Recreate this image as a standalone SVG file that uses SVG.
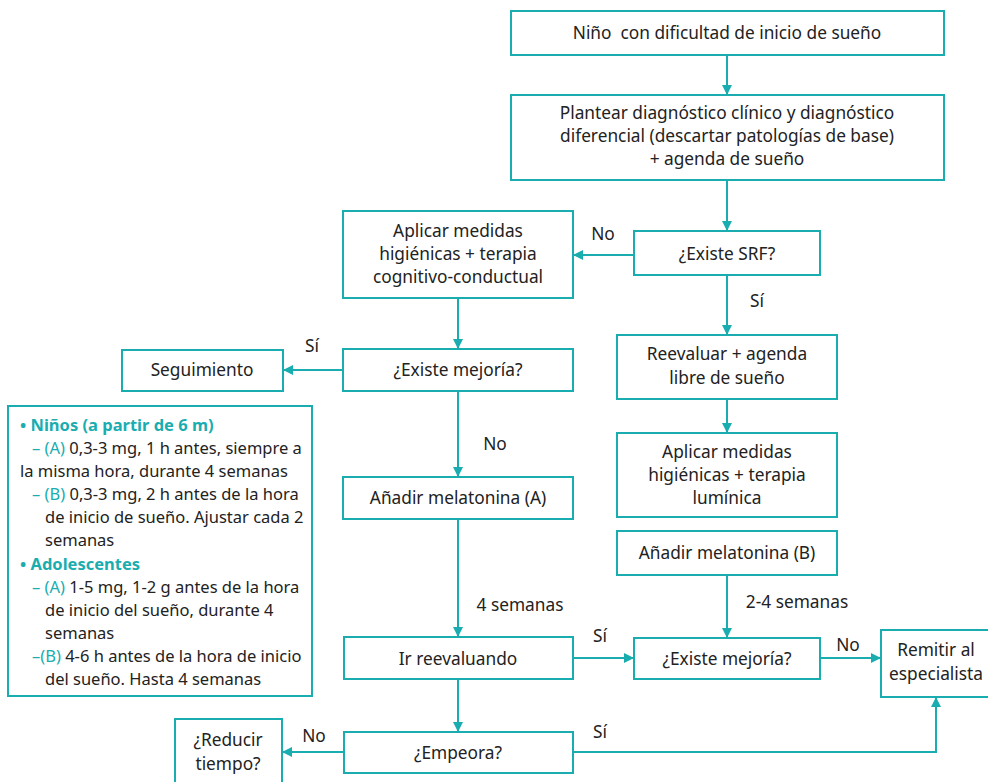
<svg xmlns="http://www.w3.org/2000/svg" width="988" height="782" viewBox="0 0 988 782">
<style>
.box{fill:#fff;stroke:#1aadb0;stroke-width:2}
.ln{fill:none;stroke:#1aadb0;stroke-width:2}
text{font-family:"Noto Sans","Open Sans",sans-serif;font-size:17.3px;fill:#222;white-space:pre}
.c{text-anchor:middle}
.s{font-size:16.5px}
.t{fill:#1aadb0}
.b{font-weight:bold;fill:#1aadb0}
</style>
<defs>
<marker id="ah" markerWidth="10" markerHeight="10" refX="9" refY="5" orient="auto" markerUnits="userSpaceOnUse">
<path d="M0,0 L10,5 L0,10 Z" fill="#1aadb0"/>
</marker>
</defs>
<rect width="988" height="782" fill="#fff"/>
<g id="connectors">
<line class="ln" x1="727" y1="55" x2="727" y2="94" marker-end="url(#ah)"/>
<line class="ln" x1="727" y1="180" x2="727" y2="230" marker-end="url(#ah)"/>
<line class="ln" x1="634" y1="255" x2="574" y2="255" marker-end="url(#ah)"/>
<line class="ln" x1="727" y1="275" x2="727" y2="334" marker-end="url(#ah)"/>
<line class="ln" x1="458" y1="298" x2="458" y2="348" marker-end="url(#ah)"/>
<line class="ln" x1="343" y1="370" x2="284" y2="370" marker-end="url(#ah)"/>
<line class="ln" x1="727" y1="399" x2="727" y2="432" marker-end="url(#ah)"/>
<line class="ln" x1="458" y1="391" x2="458" y2="476" marker-end="url(#ah)"/>
<line class="ln" x1="458" y1="519" x2="458" y2="636" marker-end="url(#ah)"/>
<line class="ln" x1="727" y1="575" x2="727" y2="637" marker-end="url(#ah)"/>
<line class="ln" x1="573" y1="658" x2="633" y2="658" marker-end="url(#ah)"/>
<line class="ln" x1="820" y1="658" x2="880" y2="658" marker-end="url(#ah)"/>
<line class="ln" x1="458" y1="679" x2="458" y2="731" marker-end="url(#ah)"/>
<line class="ln" x1="344" y1="752" x2="283" y2="752" marker-end="url(#ah)"/>
<polyline class="ln" points="573,752 936,752 936,698" marker-end="url(#ah)"/>
<text x="603" y="240" class="c">No</text>
<text x="757" y="307" class="c">Sí</text>
<text x="312" y="352" class="c">Sí</text>
<text x="495" y="450" class="c">No</text>
<text x="520" y="611" class="c">4 semanas</text>
<text x="797" y="608" class="c">2-4 semanas</text>
<text x="600" y="642" class="c">Sí</text>
<text x="848" y="651" class="c">No</text>
<text x="314" y="742" class="c">No</text>
<text x="600" y="738" class="c">Sí</text>
</g>
<g id="n1"><rect class="box" x="511" y="11" width="433" height="44"/>
<text x="727" y="39" class="c">Niño  con dificultad de inicio de sueño</text></g>
<g id="n2"><rect class="box" x="511" y="95" width="433" height="85"/>
<text x="727" y="119" class="c">Plantear diagnóstico clínico y diagnóstico</text>
<text x="727" y="142" class="c">diferencial (descartar patologías de base)</text>
<text x="727" y="165" class="c">+ agenda de sueño</text></g>
<g id="n3"><rect class="box" x="634" y="231" width="186" height="44"/>
<text x="727" y="260" class="c">¿Existe SRF?</text></g>
<g id="n4"><rect class="box" x="343" y="211" width="230" height="87"/>
<text x="458" y="237" class="c">Aplicar medidas</text>
<text x="458" y="260" class="c">higiénicas + terapia</text>
<text x="458" y="283" class="c">cognitivo-conductual</text></g>
<g id="n5"><rect class="box" x="343" y="349" width="230" height="42"/>
<text x="458" y="376" class="c">¿Existe mejoría?</text></g>
<g id="n6"><rect class="box" x="122" y="350" width="161" height="41"/>
<text x="202" y="376" class="c">Seguimiento</text></g>
<g id="n7"><rect class="box" x="617" y="335" width="220" height="64"/>
<text x="727" y="360" class="c">Reevaluar + agenda</text>
<text x="727" y="384" class="c">libre de sueño</text></g>
<g id="n8"><rect class="box" x="617" y="433" width="220" height="84"/>
<text x="727" y="458" class="c">Aplicar medidas</text>
<text x="727" y="481" class="c">higiénicas + terapia</text>
<text x="727" y="504" class="c">lumínica</text></g>
<g id="n9"><rect class="box" x="617" y="531" width="220" height="44"/>
<text x="727" y="559" class="c">Añadir melatonina (B)</text></g>
<g id="n10"><rect class="box" x="343" y="477" width="230" height="42"/>
<text x="458" y="504" class="c">Añadir melatonina (A)</text></g>
<g id="n11"><rect class="box" x="8" y="406" width="304" height="290"/>
<text class="s" x="20" y="431"><tspan class="b">• Niños (a partir de 6 m)</tspan></text>
<text class="s" x="32" y="454"><tspan class="t">– (A)</tspan> 0,3-3 mg, 1 h antes, siempre a</text>
<text class="s" x="20" y="477">la misma hora, durante 4 semanas</text>
<text class="s" x="32" y="500"><tspan class="t">– (B)</tspan> 0,3-3 mg, 2 h antes de la hora</text>
<text class="s" x="45" y="523">de inicio de sueño. Ajustar cada 2</text>
<text class="s" x="45" y="546">semanas</text>
<text class="s" x="20" y="570"><tspan class="b">• Adolescentes</tspan></text>
<text class="s" x="32" y="593"><tspan class="t">– (A)</tspan> 1-5 mg, 1-2 g antes de la hora</text>
<text class="s" x="45" y="616">de inicio del sueño, durante 4</text>
<text class="s" x="45" y="639">semanas</text>
<text class="s" x="32" y="662"><tspan class="t">–(B)</tspan> 4-6 h antes de la hora de inicio</text>
<text class="s" x="45" y="685">del sueño. Hasta 4 semanas</text></g>
<g id="n12"><rect class="box" x="344" y="637" width="229" height="42"/>
<text x="458" y="665" class="c">Ir reevaluando</text></g>
<g id="n13"><rect class="box" x="634" y="638" width="186" height="41"/>
<text x="727" y="665" class="c">¿Existe mejoría?</text></g>
<g id="n14"><rect class="box" x="881" y="630" width="110" height="67"/>
<text x="936" y="656" class="c">Remitir al</text>
<text x="936" y="680" class="c">especialista</text></g>
<g id="n15"><rect class="box" x="344" y="732" width="229" height="41"/>
<text x="458" y="759" class="c">¿Empeora?</text></g>
<g id="n16"><rect class="box" x="175" y="719" width="107" height="70"/>
<text x="228" y="746" class="c">¿Reducir</text>
<text x="228" y="770" class="c">tiempo?</text></g>
</svg>
